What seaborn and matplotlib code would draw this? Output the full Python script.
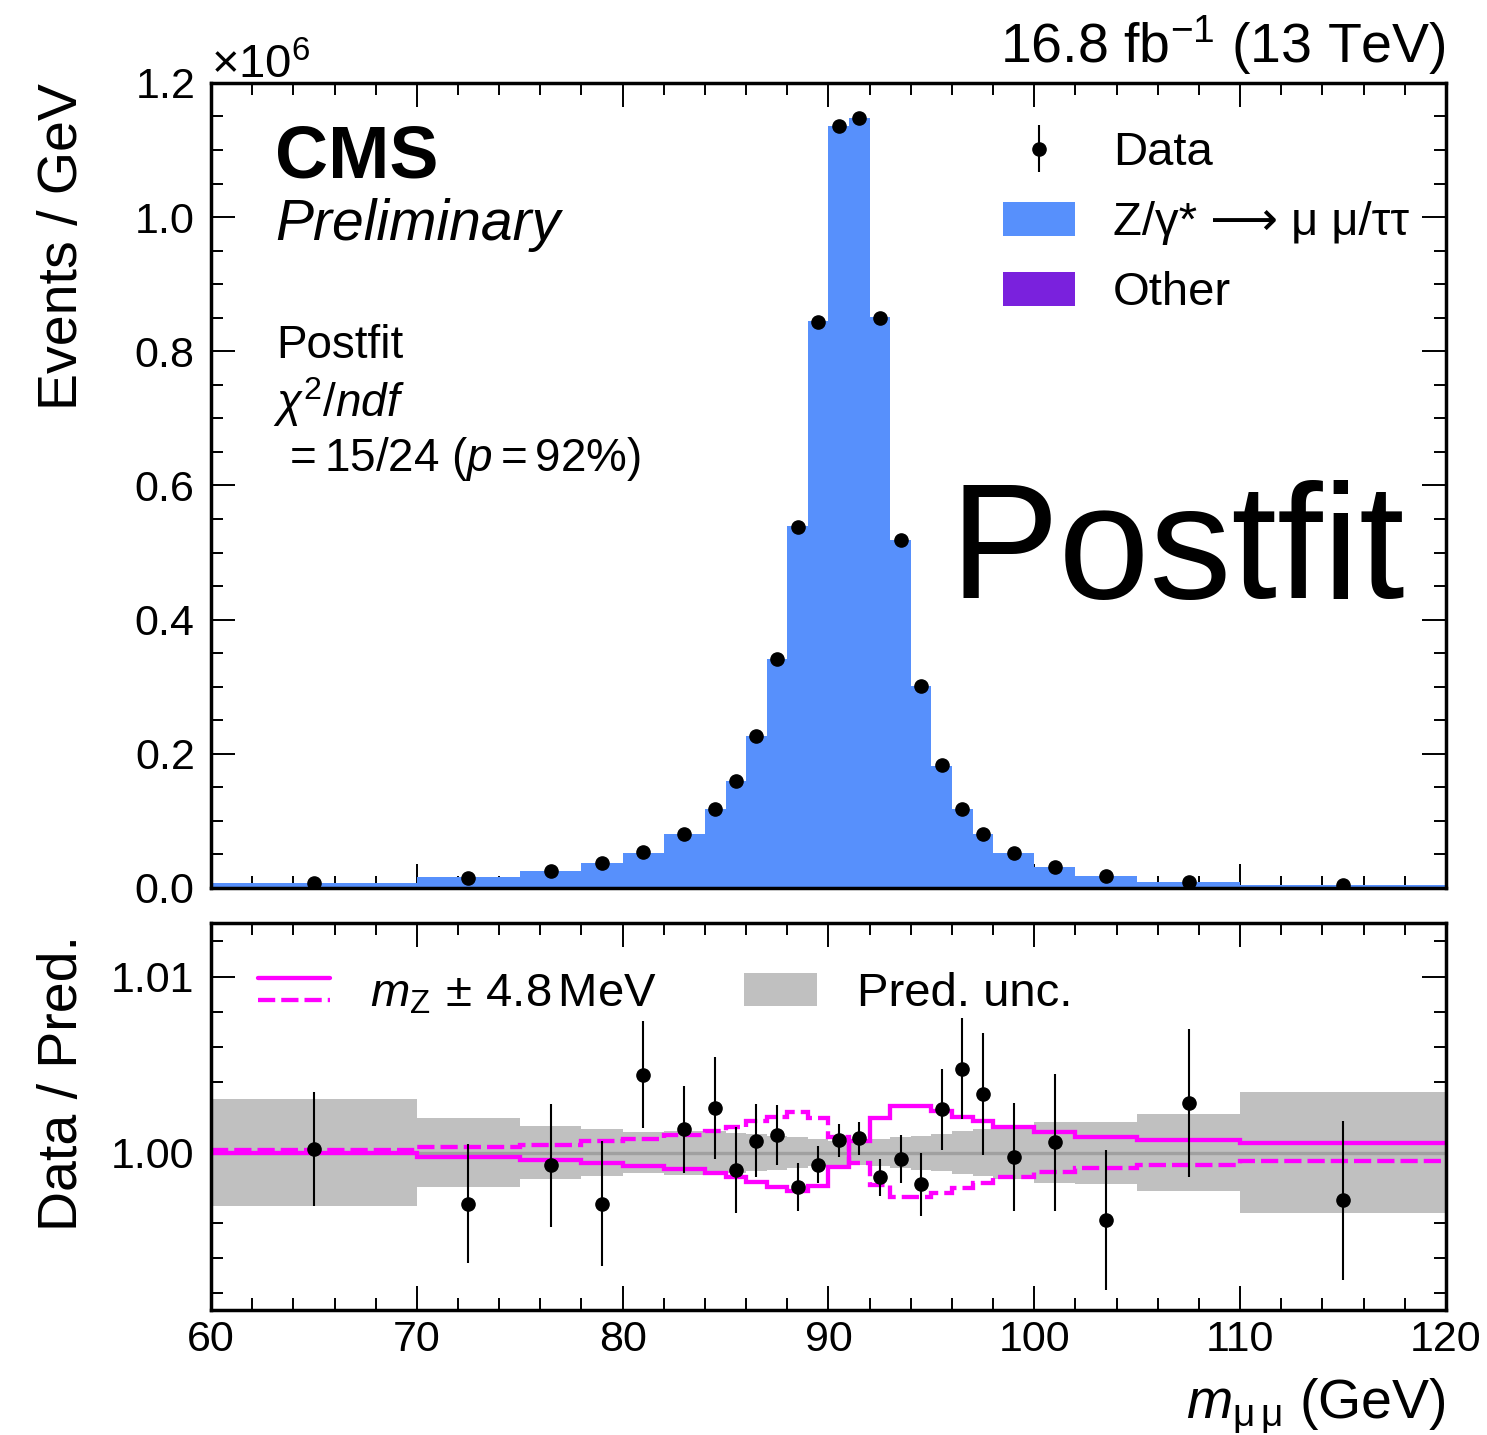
import numpy as np
import pandas as pd
import matplotlib
matplotlib.use("Agg")
import matplotlib.pyplot as plt
from matplotlib.ticker import MultipleLocator, FormatStrFormatter
from matplotlib.patches import Patch
from matplotlib.lines import Line2D
from matplotlib.legend_handler import HandlerBase
import seaborn as sns

# ---------------- data ----------------
edges = [60, 70, 75, 78, 80, 82, 84, 85, 86, 87, 88, 89, 90, 91, 92, 93, 94,
         95, 96, 97, 98, 100, 102, 105, 110, 120]
centers = [65, 72.5, 76.5, 79, 81, 83, 84.5, 85.5, 86.5, 87.5, 88.5, 89.5,
           90.5, 91.5, 92.5, 93.5, 94.5, 95.5, 96.5, 97.5, 99, 101, 103.5,
           107.5, 115]

# observed events per GeV (millions)
data_mev = [0.0072, 0.0156, 0.0258, 0.0368, 0.0530, 0.0808, 0.1175, 0.1590,
            0.2266, 0.3410, 0.5380, 0.8440, 1.1360, 1.1480, 0.8500, 0.5190,
            0.3010, 0.1830, 0.1180, 0.0808, 0.0520, 0.0309, 0.0184, 0.0096,
            0.0045]

# data / prediction and its statistical uncertainty
ratio = [1.00020, 0.99709, 0.99928, 0.99709, 1.00443, 1.00133, 1.00253,
         0.99901, 1.00068, 1.00099, 0.99804, 0.99932, 1.00070, 1.00082,
         0.99859, 0.99964, 0.99819, 1.00245, 1.00477, 1.00335, 0.99973,
         1.00059, 0.99616, 1.00281, 0.99728]
ratio_err = [0.00323, 0.00337, 0.00349, 0.00355, 0.00304, 0.00247, 0.00290,
             0.00247, 0.00209, 0.00171, 0.00135, 0.00106, 0.00093, 0.00093,
             0.00107, 0.00138, 0.00180, 0.00230, 0.00288, 0.00347, 0.00306,
             0.00390, 0.00400, 0.00422, 0.00454]

# small non-DY backgrounds per GeV (millions)
other_mev = [0.0002, 0.0003, 0.0003, 0.0004, 0.0004, 0.0004, 0.0004, 0.0004,
             0.0004, 0.0004, 0.0004, 0.0004, 0.0004, 0.0004, 0.0004, 0.0004,
             0.0004, 0.0004, 0.0004, 0.0003, 0.0003, 0.0003, 0.0003, 0.0002,
             0.0002]

# relative prediction uncertainty (half width of band)
pred_unc = [0.00305, 0.00195, 0.00152, 0.00133, 0.00118, 0.00125, 0.00120,
            0.00114, 0.00106, 0.00097, 0.00087, 0.00078, 0.00068, 0.00068,
            0.00078, 0.00087, 0.00097, 0.00106, 0.00120, 0.00133, 0.00152,
            0.00173, 0.00176, 0.00218, 0.00342]

# m_Z shifted by +/- 4.8 MeV, relative to nominal
mz_up = [0.99998, 0.99973, 0.99958, 0.99943, 0.99926, 0.99905, 0.99882,
         0.99859, 0.99835, 0.99806, 0.99783, 0.99810, 0.99916, 1.00063,
         1.00196, 1.00262, 1.00262, 1.00234, 1.00205, 1.00177, 1.00148,
         1.00116, 1.00091, 1.00072, 1.00053]
mz_down = [1.00012, 1.00029, 1.00044, 1.00063, 1.00078, 1.00100, 1.00124,
           1.00148, 1.00177, 1.00205, 1.00228, 1.00196, 1.00091, 0.99939,
           0.99816, 0.99749, 0.99749, 0.99772, 0.99797, 0.99825, 0.99859,
           0.99888, 0.99911, 0.99930, 0.99952]

# ---------------- style ----------------
sns.set_style("ticks")
plt.rcParams["font.family"] = ["Liberation Sans", "DejaVu Sans"]
plt.rcParams["mathtext.fontset"] = "custom"
plt.rcParams["mathtext.rm"] = "Liberation Sans"
plt.rcParams["mathtext.it"] = "Liberation Sans:italic"
plt.rcParams["mathtext.bf"] = "Liberation Sans:bold"
plt.rcParams["axes.linewidth"] = 2.5
for key in ("text.color", "axes.edgecolor", "axes.labelcolor",
            "xtick.color", "ytick.color"):
    plt.rcParams[key] = "black"

C_DY = "#5790fc"
C_OTHER = "#7a21dd"
C_MZ = "#ff00ff"
C_BAND = "#c0c0c0"

data = np.array(data_mev) * 1e6
rat = np.array(ratio)
rerr = np.array(ratio_err)
pred = data / rat
other = np.array(other_mev) * 1e6
dy = pred - other

fig = plt.figure(figsize=(14.87, 14.35), dpi=100)
ax = fig.add_axes([0.1419, 0.3812, 0.8305, 0.5610])
rax = fig.add_axes([0.1419, 0.0871, 0.8305, 0.2697])

# ---------------- main panel ----------------
df = pd.DataFrame({
    "mass": list(centers) * 2,
    "process": ["Z"] * len(centers) + ["Other"] * len(centers),
    "rate": list(dy) + list(other),
})
sns.histplot(data=df, x="mass", weights="rate", hue="process",
             hue_order=["Z", "Other"], bins=edges, multiple="stack",
             palette={"Z": C_DY, "Other": C_OTHER}, alpha=1, linewidth=0,
             legend=False, ax=ax)

data_h = ax.errorbar(centers, data, yerr=data * rerr / rat, fmt="o",
                     color="black", ms=9.5, elinewidth=1.5, capsize=0,
                     zorder=5, label="Data")

ax.set_xlim(60, 120)
ax.set_ylim(0, 1.2e6)
ax.xaxis.set_major_locator(MultipleLocator(10))
ax.xaxis.set_minor_locator(MultipleLocator(2))
ax.yaxis.set_major_locator(MultipleLocator(0.2e6))
ax.yaxis.set_minor_locator(MultipleLocator(0.05e6))
ax.ticklabel_format(axis="y", style="sci", scilimits=(6, 6), useMathText=True)
ax.yaxis.get_offset_text().set_fontsize(34)
ax.set_xlabel("")
ax.set_ylabel("Events / GeV", fontsize=40, loc="top")
ax.yaxis.set_label_coords(-0.099, 1.0)

ax.text(0.0518, 0.883, "CMS", fontsize=53, fontweight="bold",
        transform=ax.transAxes, va="baseline")
ax.text(0.0518, 0.805, "Preliminary", fontsize=41, style="italic",
        transform=ax.transAxes, va="baseline")
ax.text(0.0526, 0.658, "Postfit", fontsize=33, transform=ax.transAxes,
        va="baseline")
ax.text(0.0500, 0.5855, r"$\chi^2/ndf$", fontsize=33,
        transform=ax.transAxes, va="baseline")
ax.text(0.0575, 0.5184, r"${=}$15/24 ($p{=}$92%)", fontsize=33,
        transform=ax.transAxes, va="baseline")
ax.text(0.967, 0.360, "Postfit", fontsize=118, transform=ax.transAxes,
        ha="right", va="baseline")
ax.text(1.0, 1.008, r"16.8 fb$^{-1}$ (13 TeV)", fontsize=40,
        transform=ax.transAxes, ha="right", va="bottom")

leg_handles = [data_h,
               Patch(facecolor=C_DY, edgecolor="none"),
               Patch(facecolor=C_OTHER, edgecolor="none")]
leg_labels = ["Data", "Z/γ* ⟶ μ μ/ττ", "Other"]
ax.legend(leg_handles, leg_labels, loc="upper left",
          bbox_to_anchor=(0.641, 0.940), borderpad=0, borderaxespad=0,
          frameon=False, fontsize=34, handlelength=1.53, handleheight=0.72,
          handletextpad=0.8, labelspacing=0.55)

# ---------------- ratio panel ----------------
rax.stairs(1 + np.array(pred_unc), edges, baseline=1 - np.array(pred_unc),
           fill=True, color=C_BAND, linewidth=0, zorder=1)
rax.axhline(1.0, color="#a0a0a0", lw=2.4, zorder=1.5)
rax.stairs(mz_up, edges, baseline=None, color=C_MZ, lw=3.1, zorder=2)
rax.stairs(mz_down, edges, baseline=None, color=C_MZ, lw=3.1,
           linestyle=(0, (4, 1.4)), zorder=2)
rax.errorbar(centers, rat, yerr=rerr, fmt="o", color="black", ms=9.5,
             elinewidth=1.5, capsize=0, zorder=5)

rax.set_xlim(60, 120)
rax.set_ylim(0.99105, 1.01305)
rax.xaxis.set_major_locator(MultipleLocator(10))
rax.xaxis.set_minor_locator(MultipleLocator(2))
rax.yaxis.set_major_locator(MultipleLocator(0.01))
rax.yaxis.set_minor_locator(MultipleLocator(0.002))
rax.yaxis.set_major_formatter(FormatStrFormatter("%.2f"))
rax.set_ylabel("Data / Pred.", fontsize=40, loc="top")
rax.yaxis.set_label_coords(-0.099, 0.97)
rax.set_xlabel(r"$m_{\mathrm{μ\,μ}}$ (GeV)", fontsize=40, loc="right")
rax.xaxis.set_label_coords(1.0, -0.172)


class PairHandler(HandlerBase):
    """Draws a solid line above a dashed line in one legend slot."""

    def create_artists(self, legend, orig_handle, xdescent, ydescent,
                       width, height, fontsize, trans):
        x0, x1 = -xdescent, width - xdescent
        top = Line2D([x0, x1], [0.85 * height - ydescent] * 2, color=C_MZ,
                     lw=3.1)
        bot = Line2D([x0, x1], [0.2 * height - ydescent] * 2, color=C_MZ,
                     lw=3.1, linestyle=(0, (4, 1.4)))
        top.set_transform(trans)
        bot.set_transform(trans)
        return [top, bot]


pair = (Line2D([], [], color=C_MZ), Line2D([], [], color=C_MZ, ls="--"))
rax.legend([pair, Patch(facecolor=C_BAND, edgecolor="none")],
           [r"$m_{\mathrm{Z}}\,\pm\,4.8\,$MeV", "Pred. unc."],
           handler_map={tuple: PairHandler()}, loc="upper left",
           bbox_to_anchor=(0.038, 0.873), borderpad=0, borderaxespad=0,
           ncol=2, frameon=False, fontsize=34, handlelength=1.53,
           handleheight=0.72, handletextpad=0.85, columnspacing=1.85)

for a in (ax, rax):
    a.tick_params(which="both", direction="in", top=True, right=True,
                  width=1.4, labelsize=31)
    a.tick_params(which="major", length=17)
    a.tick_params(which="minor", length=8.6)
    a.tick_params(axis="y", pad=12)
    a.tick_params(axis="x", pad=7)
ax.tick_params(labelbottom=False)

fig.savefig("out.png", dpi=100)
